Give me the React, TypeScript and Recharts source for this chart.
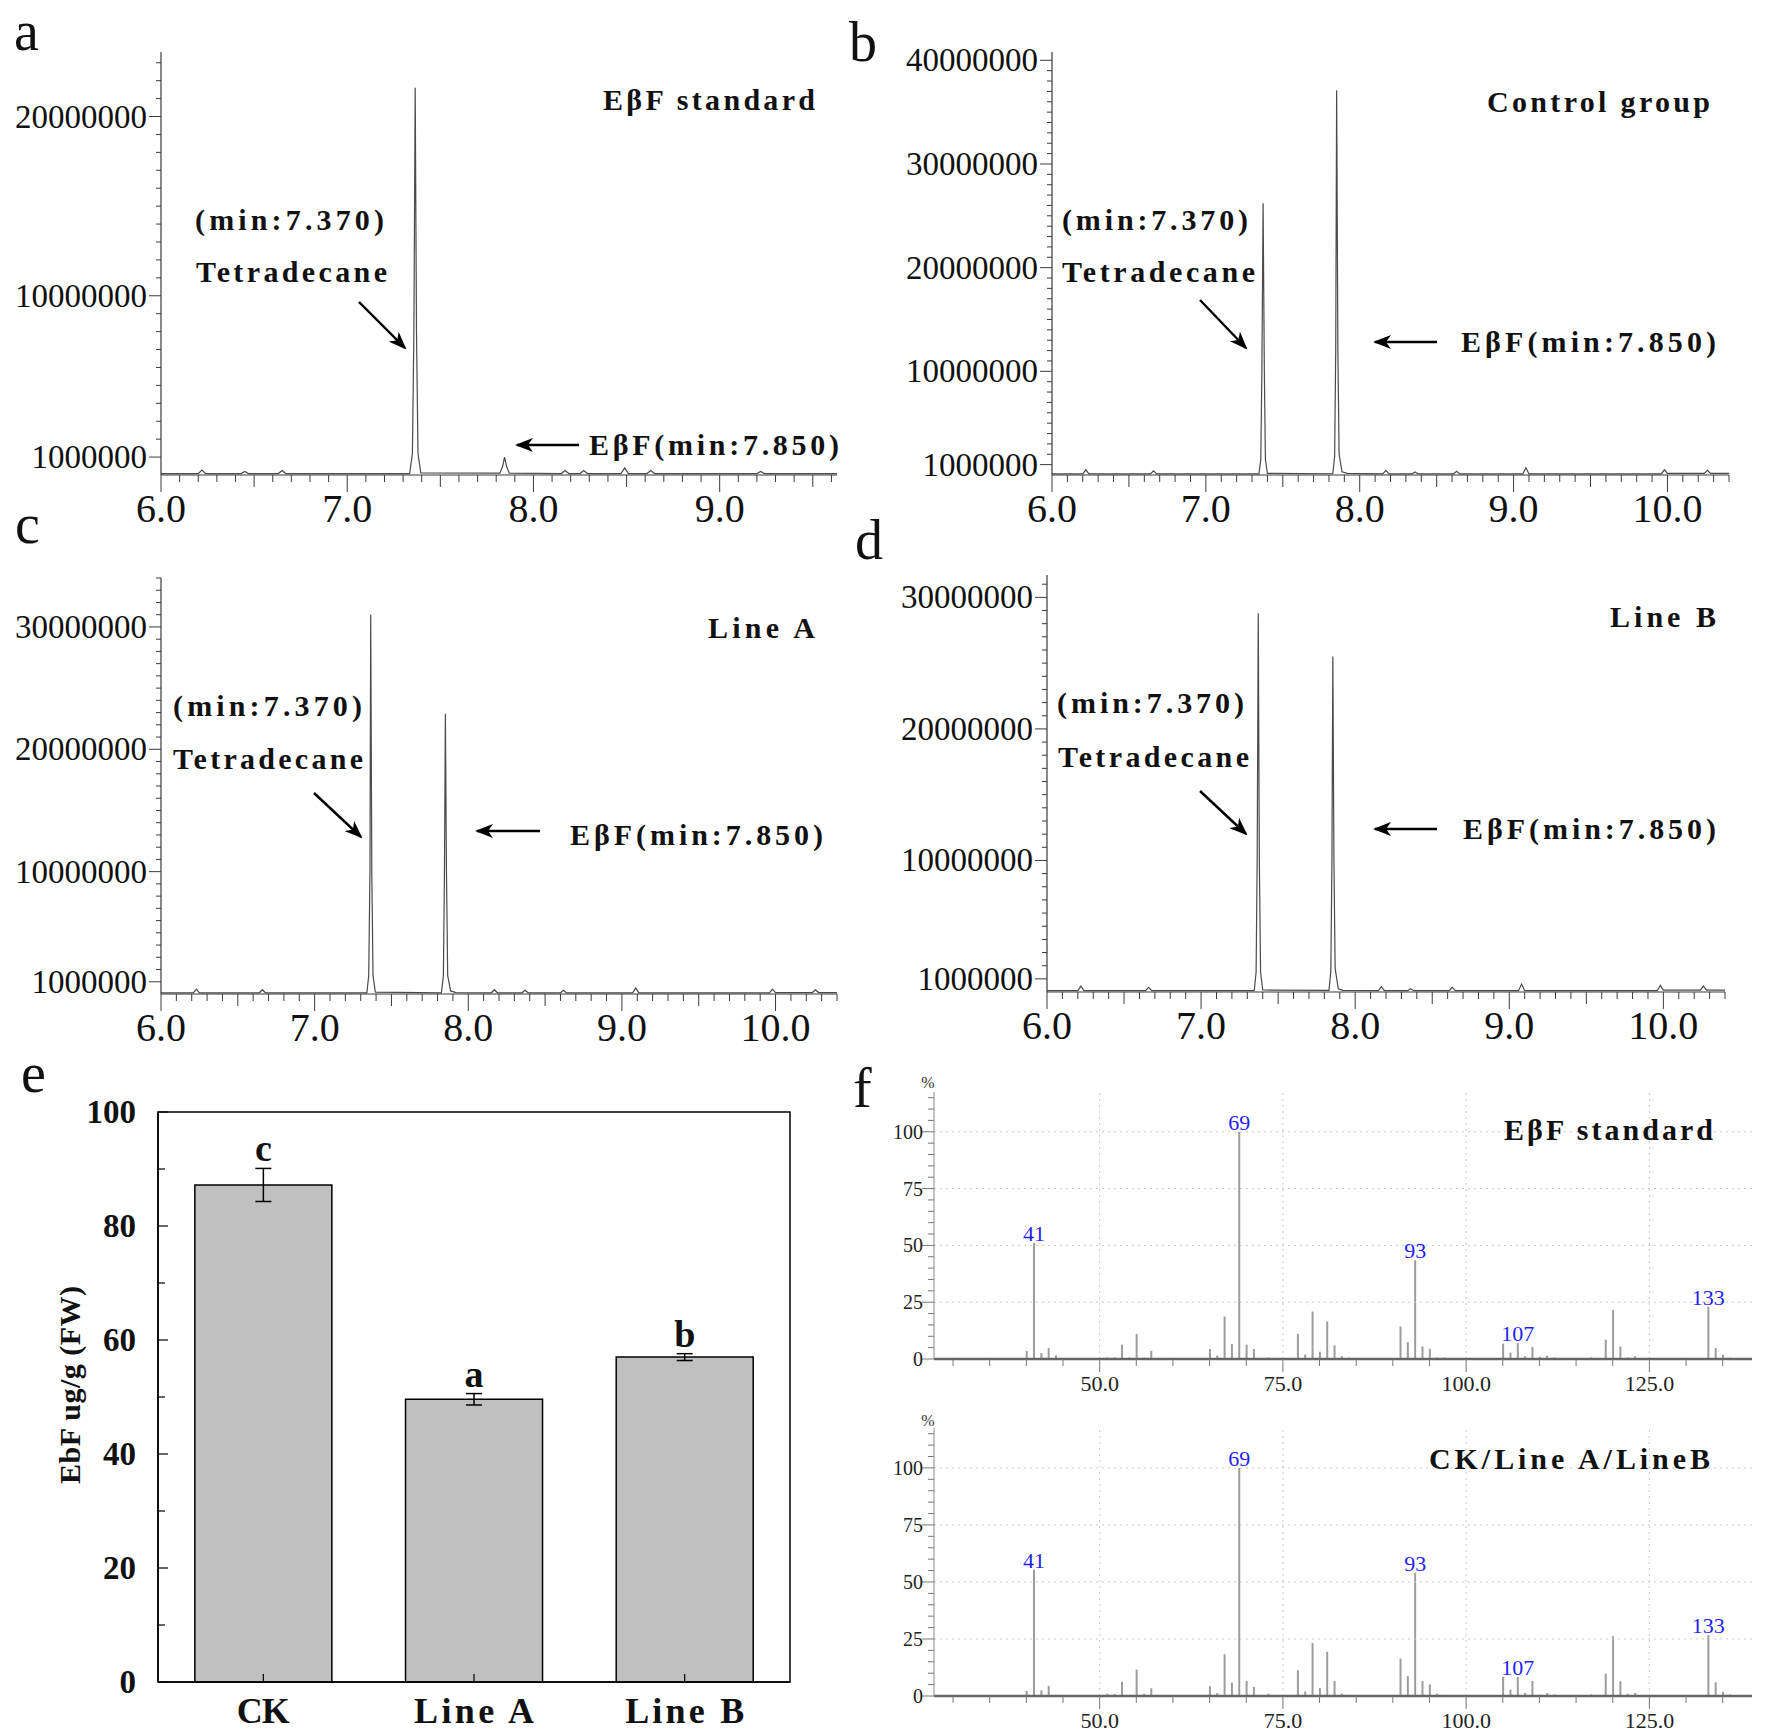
import React from "react";
import {
  LineChart,
  Line,
  BarChart,
  Bar,
  XAxis,
  YAxis,
  ErrorBar,
  LabelList,
  ReferenceArea,
  ReferenceLine,
} from "recharts";

const SERIF = "'Liberation Serif', 'Times New Roman', serif";
const AXIS = "#3a3a3a";

// ---- chromatograms: [retention time (min), intensity (millions of counts)]
const standardTrace: [number, number][] = [
  [6.0, 0.08], [6.2, 0.08], [6.22, 0.28], [6.24, 0.08], [6.43, 0.08], [6.45, 0.2], [6.47, 0.08],
  [6.63, 0.08], [6.65, 0.25], [6.67, 0.08], [7.335, 0.08], [7.35, 1.2], [7.358, 8], [7.365, 21.6],
  [7.372, 8], [7.38, 1.2], [7.395, 0.12], [7.82, 0.1], [7.835, 0.5], [7.845, 1.0], [7.855, 0.5],
  [7.87, 0.1], [8.15, 0.08], [8.17, 0.25], [8.19, 0.08], [8.25, 0.08], [8.27, 0.25], [8.29, 0.08],
  [8.47, 0.08], [8.49, 0.4], [8.51, 0.08], [8.61, 0.08], [8.63, 0.25], [8.65, 0.08], [9.2, 0.08],
  [9.22, 0.2], [9.24, 0.08], [9.63, 0.08],
];

const controlTrace: [number, number][] = [
  [6.0, 0.1], [6.2, 0.1], [6.22, 0.5], [6.24, 0.1], [6.64, 0.1], [6.66, 0.4], [6.68, 0.1],
  [7.345, 0.1], [7.357, 1.5], [7.364, 10], [7.372, 26.2], [7.38, 10], [7.387, 1.5], [7.4, 0.15],
  [7.825, 0.12], [7.837, 1.8], [7.844, 12], [7.85, 37.1], [7.858, 12], [7.866, 2], [7.885, 0.3],
  [7.92, 0.15], [8.15, 0.1], [8.17, 0.45], [8.19, 0.1], [8.34, 0.1], [8.36, 0.3], [8.38, 0.1],
  [8.61, 0.1], [8.63, 0.35], [8.65, 0.1], [9.06, 0.1], [9.08, 0.7], [9.1, 0.1], [9.96, 0.1],
  [9.98, 0.5], [10.0, 0.15], [10.24, 0.15], [10.26, 0.45], [10.28, 0.15], [10.4, 0.15],
];

const lineATrace: [number, number][] = [
  [6.0, 0.1], [6.21, 0.1], [6.23, 0.4], [6.25, 0.1], [6.64, 0.1], [6.66, 0.35], [6.68, 0.1],
  [7.34, 0.1], [7.352, 1.5], [7.36, 10], [7.365, 31.0], [7.372, 10], [7.38, 1.5], [7.395, 0.15],
  [7.825, 0.1], [7.838, 1.5], [7.845, 10], [7.851, 22.9], [7.858, 10], [7.866, 1.5], [7.885, 0.25],
  [7.92, 0.12], [8.15, 0.1], [8.17, 0.35], [8.19, 0.1], [8.35, 0.1], [8.37, 0.3], [8.39, 0.1],
  [8.6, 0.1], [8.62, 0.3], [8.64, 0.1], [9.07, 0.1], [9.09, 0.5], [9.11, 0.1], [9.96, 0.1],
  [9.98, 0.4], [10.0, 0.12], [10.24, 0.12], [10.26, 0.35], [10.28, 0.12], [10.4, 0.12],
];

const lineBTrace: [number, number][] = [
  [6.0, 0.1], [6.2, 0.1], [6.22, 0.45], [6.24, 0.1], [6.64, 0.1], [6.66, 0.35], [6.68, 0.1],
  [7.345, 0.1], [7.357, 1.5], [7.364, 10], [7.371, 28.8], [7.378, 10], [7.386, 1.5], [7.4, 0.15],
  [7.83, 0.12], [7.842, 1.6], [7.849, 10], [7.855, 25.5], [7.862, 10], [7.87, 1.8], [7.89, 0.25],
  [7.92, 0.12], [8.15, 0.1], [8.17, 0.4], [8.19, 0.1], [8.34, 0.1], [8.36, 0.25], [8.38, 0.1],
  [8.61, 0.1], [8.63, 0.35], [8.65, 0.1], [9.06, 0.1], [9.08, 0.6], [9.1, 0.1], [9.96, 0.1],
  [9.98, 0.5], [10.0, 0.15], [10.24, 0.15], [10.26, 0.45], [10.28, 0.15], [10.4, 0.15],
];

const timeLabels = [6, 7, 8, 9, 10];
const standardIntensityLabels = [1000000, 10000000, 20000000];
const controlIntensityLabels = [1000000, 10000000, 20000000, 30000000, 40000000];
const lineIntensityLabels = [1000000, 10000000, 20000000, 30000000];

// ---- EβF content (bar chart e)
const groups = ["CK", "Line A", "Line B"];
const ebfMeans = [87.2, 49.6, 57.0];
const ebfErrors = [2.9, 1.0, 0.6];
const sigLetters = ["c", "a", "b"];
const ebfTicks = [0, 10, 20, 30, 40, 50, 60, 70, 80, 90, 100];
const ebfTickLabels = [0, 20, 40, 60, 80, 100];

// ---- mass spectra (f)
const mzValues = [
  40, 41, 42, 43, 44, 45, 51, 52, 53, 54, 55, 56, 57, 65, 66, 67, 68, 69, 70, 71, 73, 77, 78, 79,
  80, 81, 82, 83, 84, 91, 92, 93, 94, 95, 96, 97, 105, 106, 107, 108, 109, 110, 111, 112, 117, 119,
  120, 121, 122, 123, 133, 134, 135, 136,
];
const standardSpectrum = [
  3.6, 51.1, 2.6, 4.8, 1.6, 0.3, 0.7, 0.7, 6.3, 0.7, 11, 0.7, 3.6, 4.4, 1.5, 18.7, 6.6, 100, 6.3,
  4.4, 0.7, 11.1, 2, 20.9, 3.2, 16.5, 6, 1.2, 0.6, 14.3, 7.4, 43.5, 5.5, 4.5, 0.7, 0.7, 6.7, 2.8, 7,
  1.2, 5.3, 1, 1.5, 0.7, 0.7, 8.5, 21.6, 5.5, 0.7, 1.2, 23, 4.8, 1.8, 0.6,
];
const sampleSpectrum = [
  2.2, 55.4, 2.5, 4.4, 0.5, 0.3, 1, 0.9, 6.2, 0.5, 11.6, 1, 3.4, 4.3, 1.3, 18.3, 5.9, 100, 6.6, 4,
  1, 11.3, 2, 23.3, 3.5, 19.4, 6.6, 1, 0.5, 16.4, 8.7, 54, 6.6, 5.1, 1, 0.5, 8.4, 2.8, 8.4, 1.3, 6.6,
  0.6, 1.3, 0.7, 0.7, 9.8, 26.2, 6.5, 1, 1.3, 26.7, 6, 1.8, 0.7,
];
const labeledPeaks = [41, 69, 93, 107, 133];
const mzLabels = [50, 75, 100, 125];
const pctLabels = [0, 25, 50, 75, 100];

const toPoints = (pairs: [number, number][]) => pairs.map(([t, m]) => ({ t, v: m * 1e6 }));

function TimeTick(props: any) {
  const { x, y, payload } = props;
  const v = payload.value as number;
  const tenth = Math.round(v * 10);
  const labeled = timeLabels.some((l) => Math.abs(l - v) < 1e-6);
  const len = labeled ? 17 : tenth % 5 === 0 ? 12 : 7;
  return (
    <g>
      <line x1={x} y1={y} x2={x} y2={y + len} stroke={AXIS} strokeWidth={1} />
      {labeled && (
        <text x={x} y={y + 47} textAnchor="middle" fontFamily={SERIF} fontSize={40} fill="#111">
          {v.toFixed(1)}
        </text>
      )}
    </g>
  );
}

function IntensityTick(props: any) {
  const { x, y, payload, labels } = props;
  const labeled = labels.includes(payload.value);
  return (
    <g>
      <line x1={x - (labeled ? 12 : 5)} y1={y} x2={x} y2={y} stroke={AXIS} strokeWidth={1} />
      {labeled && (
        <text x={x - 14} y={y + 11} textAnchor="end" fontFamily={SERIF} fontSize={33} fill="#111">
          {payload.value}
        </text>
      )}
    </g>
  );
}

interface ChromProps {
  left: number;
  top: number;
  width: number;
  height: number;
  axisWidth: number;
  marginTop: number;
  marginRight: number;
  marginBottom: number;
  trace: [number, number][];
  xMax: number;
  yMax: number;
  yLabels: number[];
}

function Chromatogram(p: ChromProps) {
  const xTicks: number[] = [];
  for (let i = 0; 6 + i * 0.1 <= p.xMax + 1e-9; i++) xTicks.push(+(6 + i * 0.1).toFixed(1));
  const yTicks: number[] = [];
  for (let m = 1; m * 1e6 <= p.yMax; m++) yTicks.push(m * 1e6);
  return (
    <div style={{ position: "absolute", left: p.left, top: p.top }}>
      <LineChart
        width={p.width}
        height={p.height}
        data={toPoints(p.trace)}
        margin={{ top: p.marginTop, right: p.marginRight, left: 0, bottom: p.marginBottom }}
      >
        <XAxis
          type="number"
          dataKey="t"
          domain={[6, p.xMax]}
          ticks={xTicks}
          interval={0}
          height={50}
          tickLine={false}
          tickSize={0}
          tickMargin={0}
          axisLine={{ stroke: AXIS, strokeWidth: 1.2 }}
          tick={(tp: any) => <TimeTick {...tp} />}
          allowDataOverflow
        />
        <YAxis
          type="number"
          domain={[0, p.yMax]}
          ticks={yTicks}
          interval={0}
          width={p.axisWidth}
          tickLine={false}
          tickSize={0}
          tickMargin={0}
          axisLine={{ stroke: AXIS, strokeWidth: 1.2 }}
          tick={(tp: any) => <IntensityTick {...tp} labels={p.yLabels} />}
          allowDataOverflow
        />
        <Line
          type="linear"
          dataKey="v"
          stroke="#4a4a4a"
          strokeWidth={1.2}
          dot={false}
          isAnimationActive={false}
        />
      </LineChart>
    </div>
  );
}

function MzTick(props: any) {
  const { x, y, payload } = props;
  const labeled = mzLabels.includes(payload.value);
  return (
    <g>
      <line x1={x} y1={y} x2={x} y2={y + (labeled ? 13 : 7)} stroke="#777" strokeWidth={1} />
      {labeled && (
        <text x={x} y={y + 32} textAnchor="middle" fontFamily={SERIF} fontSize={22} fill="#222">
          {payload.value.toFixed(1)}
        </text>
      )}
    </g>
  );
}

function PctTick(props: any) {
  const { x, y, payload } = props;
  const labeled = pctLabels.includes(payload.value);
  return (
    <g>
      <line x1={x - (labeled ? 12 : 6)} y1={y} x2={x} y2={y} stroke="#777" strokeWidth={1} />
      {labeled && (
        <text x={x - 11} y={y + 7} textAnchor="end" fontFamily={SERIF} fontSize={20} fill="#222">
          {payload.value}
        </text>
      )}
    </g>
  );
}

function PeakLabel(props: any) {
  const { x, y, width, value } = props;
  if (!labeledPeaks.includes(value)) return null;
  return (
    <text x={x + width / 2} y={y - 2} textAnchor="middle" fontFamily={SERIF} fontSize={22} fill="#1f1ff5">
      {value}
    </text>
  );
}

interface SpecProps {
  left: number;
  top: number;
  height: number;
  marginTop: number;
  marginBottom: number;
  values: number[];
}

function Spectrum(p: SpecProps) {
  const data = mzValues.map((mz, i) => ({ mz, pct: p.values[i] }));
  const mzTicks: number[] = [];
  for (let m = 30; m <= 135; m += 5) mzTicks.push(m);
  const pctTicks: number[] = [];
  for (let v = 0; v <= 115; v += 5) pctTicks.push(v);
  return (
    <div style={{ position: "absolute", left: p.left, top: p.top }}>
      <BarChart
        width={900}
        height={p.height}
        data={data}
        margin={{ top: p.marginTop, right: 18, left: 0, bottom: p.marginBottom }}
      >
        {[25, 50, 75, 100].map((v) => (
          <ReferenceLine key={"h" + v} y={v} stroke="#c8c8c8" strokeDasharray="2 4" />
        ))}
        {mzLabels.map((v) => (
          <ReferenceLine key={"v" + v} x={v} stroke="#c8c8c8" strokeDasharray="2 4" />
        ))}
        <XAxis
          type="number"
          dataKey="mz"
          domain={[27.4, 139]}
          ticks={mzTicks}
          interval={0}
          height={40}
          tickLine={false}
          tickSize={0}
          tickMargin={0}
          axisLine={{ stroke: "#666", strokeWidth: 2.5 }}
          tick={(tp: any) => <MzTick {...tp} />}
          allowDataOverflow
        />
        <YAxis
          type="number"
          domain={[0, 117.5]}
          ticks={pctTicks}
          interval={0}
          width={64}
          tickLine={false}
          tickSize={0}
          tickMargin={0}
          axisLine={{ stroke: "#888", strokeWidth: 1 }}
          tick={(tp: any) => <PctTick {...tp} />}
          allowDataOverflow
        />
        <Bar dataKey="pct" fill="#9c9c9c" barSize={2} isAnimationActive={false}>
          <LabelList dataKey="mz" content={(lp: any) => <PeakLabel {...lp} />} />
        </Bar>
      </BarChart>
    </div>
  );
}

function EbfTickY(props: any) {
  const { x, y, payload } = props;
  const labeled = ebfTickLabels.includes(payload.value);
  return (
    <g>
      <line x1={x} y1={y} x2={x + (labeled ? 10 : 7)} y2={y} stroke="#000" strokeWidth={1.2} />
      {labeled && (
        <text x={x - 22} y={y + 11} textAnchor="end" fontFamily={SERIF} fontWeight="bold" fontSize={33} fill="#111">
          {payload.value}
        </text>
      )}
    </g>
  );
}

const groupLabelWidths = [53, 120, 119];

function GroupTick(props: any) {
  const { x, y, payload, index } = props;
  return (
    <g>
      <line x1={x} y1={y} x2={x} y2={y - 8} stroke="#000" strokeWidth={1.2} />
      <text
        x={x}
        y={y + 41}
        textAnchor="middle"
        fontFamily={SERIF}
        fontWeight="bold"
        fontSize={36}
        fill="#111"
        textLength={groupLabelWidths[index]}
      >
        {payload.value}
      </text>
    </g>
  );
}

function SigLetter(props: any) {
  const { x, y, width, height, index } = props;
  const perUnit = height / ebfMeans[index];
  const errTop = y - ebfErrors[index] * perUnit;
  return (
    <text x={x + width / 2} y={errTop - 7} textAnchor="middle" fontFamily={SERIF} fontWeight="bold" fontSize={38} fill="#111">
      {sigLetters[index]}
    </text>
  );
}

function ContentChart() {
  const data = groups.map((name, i) => ({ name, mean: ebfMeans[i], err: ebfErrors[i] }));
  return (
    <div style={{ position: "absolute", left: 0, top: 1060 }}>
      <BarChart
        width={860}
        height={676}
        data={data}
        margin={{ top: 52, right: 70, left: 0, bottom: 4 }}
        barCategoryGap="17.5%"
      >
        <XAxis
          dataKey="name"
          height={50}
          interval={0}
          tickLine={false}
          tickSize={0}
          tickMargin={0}
          axisLine={{ stroke: "#000", strokeWidth: 1.5 }}
          tick={(tp: any) => <GroupTick {...tp} />}
        />
        <YAxis
          type="number"
          domain={[0, 100]}
          ticks={ebfTicks}
          interval={0}
          width={158}
          tickLine={false}
          tickSize={0}
          tickMargin={0}
          axisLine={{ stroke: "#000", strokeWidth: 1.5 }}
          tick={(tp: any) => <EbfTickY {...tp} />}
        />
        <ReferenceArea x1="CK" x2="Line B" y1={0} y2={100} fill="none" stroke="#000" strokeWidth={1.5} />
        <Bar dataKey="mean" fill="#c0c0c0" stroke="#000" strokeWidth={1.5} isAnimationActive={false}>
          <ErrorBar dataKey="err" width={8} stroke="#000" strokeWidth={1.5} />
          <LabelList content={(lp: any) => <SigLetter {...lp} />} />
        </Bar>
      </BarChart>
    </div>
  );
}

// annotation texts: [text, left x, centre y, width]
const notes: [string, number, number, number][] = [
  ["EβF standard", 603, 100, 212],
  ["(min:7.370)", 195, 220, 189],
  ["Tetradecane", 196, 272, 191],
  ["EβF(min:7.850)", 589, 445, 250],
  ["Control group", 1487, 102, 223],
  ["(min:7.370)", 1062, 220, 186],
  ["Tetradecane", 1062, 272, 193],
  ["EβF(min:7.850)", 1461, 342, 255],
  ["Line A", 708, 628, 107],
  ["(min:7.370)", 173, 706, 189],
  ["Tetradecane", 173, 759, 190],
  ["EβF(min:7.850)", 570, 835, 253],
  ["Line B", 1610, 617, 106],
  ["(min:7.370)", 1057, 703, 187],
  ["Tetradecane", 1058, 757, 191],
  ["EβF(min:7.850)", 1463, 829, 253],
  ["EβF standard", 1504, 1130, 209],
  ["CK/Line A/LineB", 1429, 1459, 281],
];

// arrows: x1, y1, x2, y2
const arrows: [number, number, number, number][] = [
  [359, 302, 405, 348],
  [579, 445, 517, 445],
  [1200, 300, 1246, 348],
  [1437, 342, 1375, 342],
  [314, 793, 361, 837],
  [540, 831, 477, 831],
  [1200, 791, 1246, 834],
  [1437, 829, 1375, 829],
];

const panelLetters: [string, number, number][] = [
  ["a", 14, 50],
  ["b", 849, 61],
  ["c", 15, 543],
  ["d", 855, 559],
  ["e", 21, 1092],
  ["f", 853, 1107],
];

function Annotations() {
  return (
    <svg width={1770} height={1736} style={{ position: "absolute", left: 0, top: 0, pointerEvents: "none" }}>
      <defs>
        <marker id="ah" markerWidth="18" markerHeight="14" refX="16" refY="7" orient="auto" markerUnits="userSpaceOnUse">
          <path d="M0,0 L18,7 L0,14 L5,7 z" fill="#000" />
        </marker>
      </defs>
      {panelLetters.map(([t, x, y]) => (
        <text key={t} x={x} y={y} fontFamily={SERIF} fontSize={56} fill="#111">
          {t}
        </text>
      ))}
      {notes.map(([t, x, y, w], i) => (
        <text
          key={i}
          x={x}
          y={y + 10}
          fontFamily={SERIF}
          fontWeight="bold"
          fontSize={30}
          fill="#111"
          textLength={w}
        >
          {t}
        </text>
      ))}
      {arrows.map(([x1, y1, x2, y2], i) => (
        <line key={i} x1={x1} y1={y1} x2={x2} y2={y2} stroke="#000" strokeWidth={2.4} markerEnd="url(#ah)" />
      ))}
      <text x={928} y={1088} textAnchor="middle" fontFamily={SERIF} fontSize={16} fill="#333">
        %
      </text>
      <text x={928} y={1426} textAnchor="middle" fontFamily={SERIF} fontSize={16} fill="#333">
        %
      </text>
      <text
        transform="translate(80,1385) rotate(-90)"
        textAnchor="middle"
        fontFamily={SERIF}
        fontWeight="bold"
        fontSize={30}
        fill="#111"
        textLength={198}
      >
        EbF ug/g (FW)
      </text>
    </svg>
  );
}

export default function App() {
  return (
    <div
      style={{
        position: "absolute",
        left: 0,
        top: 0,
        width: 1770,
        height: 1736,
        background: "#fff",
        overflow: "hidden",
      }}
    >
      <Chromatogram
        left={0}
        top={0}
        width={870}
        height={530}
        axisWidth={161}
        marginTop={52}
        marginRight={33}
        marginBottom={5}
        trace={standardTrace}
        xMax={9.63}
        yMax={23.6e6}
        yLabels={standardIntensityLabels}
      />
      <Chromatogram
        left={870}
        top={0}
        width={900}
        height={530}
        axisWidth={182}
        marginTop={52}
        marginRight={41}
        marginBottom={5}
        trace={controlTrace}
        xMax={10.4}
        yMax={40.8e6}
        yLabels={controlIntensityLabels}
      />
      <Chromatogram
        left={0}
        top={530}
        width={870}
        height={530}
        axisWidth={161}
        marginTop={48}
        marginRight={33}
        marginBottom={16}
        trace={lineATrace}
        xMax={10.4}
        yMax={34.0e6}
        yLabels={lineIntensityLabels}
      />
      <Chromatogram
        left={870}
        top={530}
        width={900}
        height={530}
        axisWidth={177}
        marginTop={45}
        marginRight={45}
        marginBottom={18}
        trace={lineBTrace}
        xMax={10.4}
        yMax={31.7e6}
        yLabels={lineIntensityLabels}
      />
      <ContentChart />
      <Spectrum left={870} top={1060} height={340} marginTop={32} marginBottom={1} values={standardSpectrum} />
      <Spectrum left={870} top={1400} height={336} marginTop={28} marginBottom={0} values={sampleSpectrum} />
      <Annotations />
    </div>
  );
}
